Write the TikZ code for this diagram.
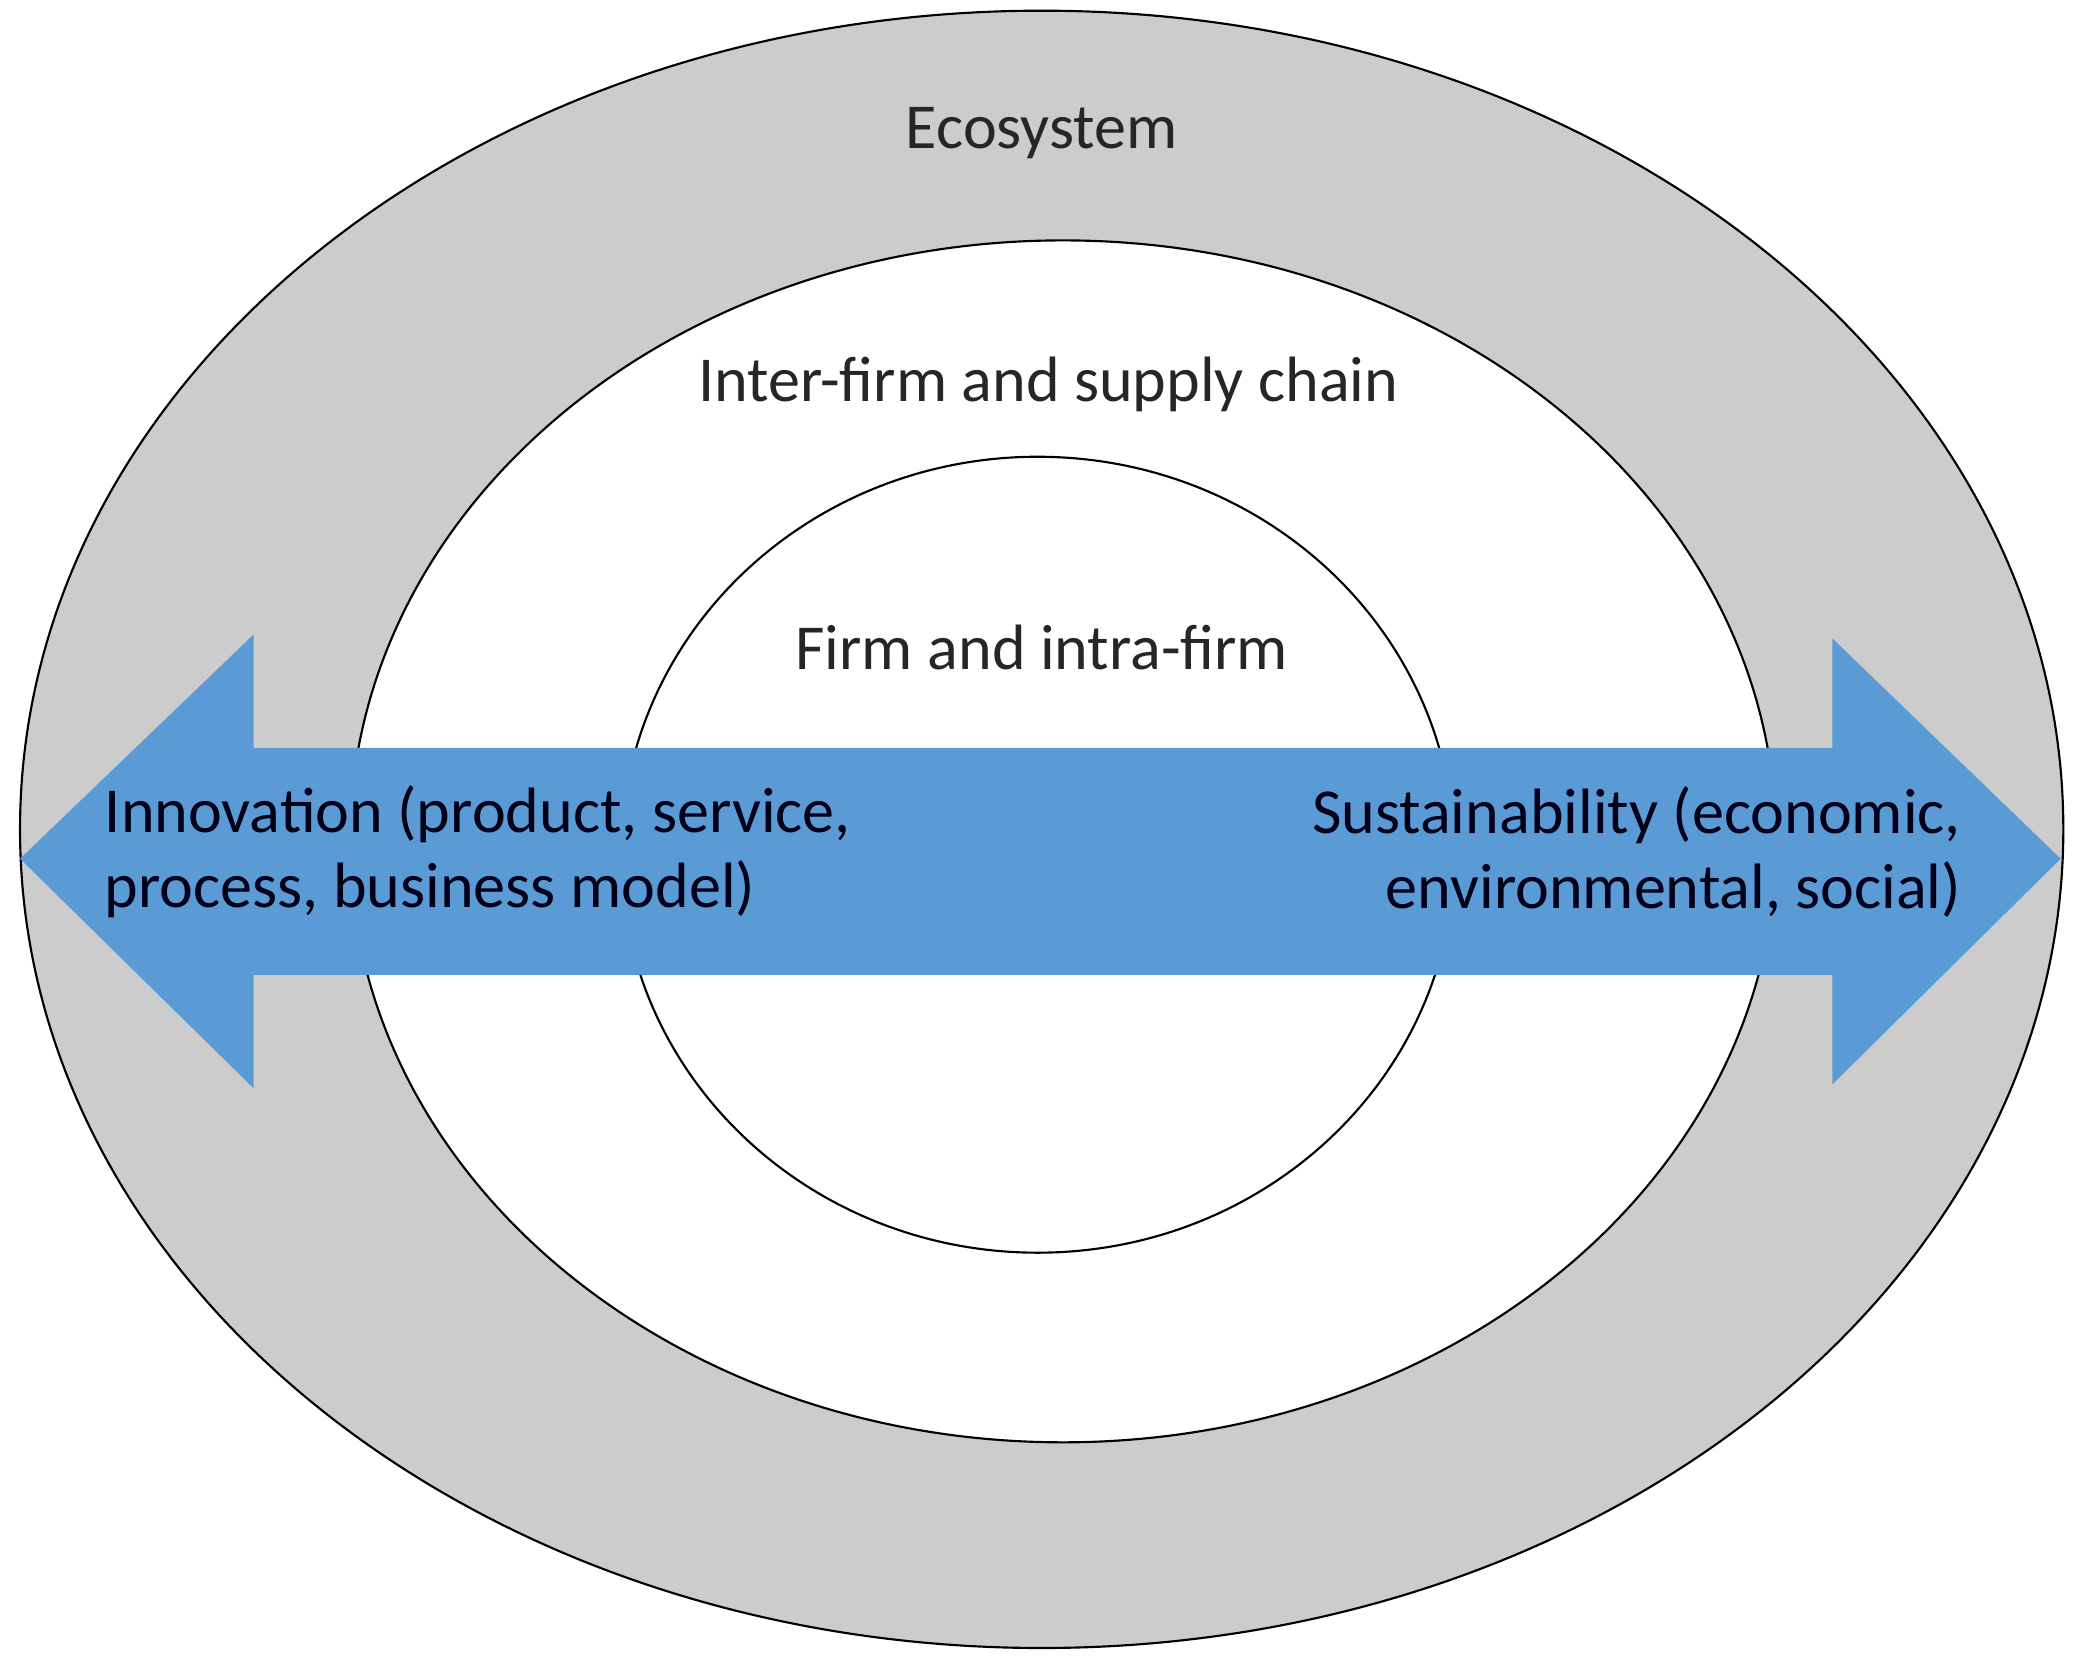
\documentclass[tikz,border=0pt]{standalone}
\usepackage{fontspec}
\setmainfont{Carlito}
\definecolor{ringgray}{RGB}{204,204,204}
\definecolor{arrowblue}{RGB}{91,155,213}
\begin{document}
\begin{tikzpicture}[x=1pt,y=-1pt,
  ring/.style={draw=black,line width=1.6pt},
  lbl/.style={font=\fontsize{48}{56}\selectfont,text=black!85}]
\useasboundingbox (0,0) rectangle (1553,1240);
\fill[white] (0,0) rectangle (1553,1240);
\draw[ring,fill=ringgray] (780,621) ellipse [x radius=765,y radius=613];
\draw[ring,fill=white] (796,630) ellipse [x radius=534,y radius=450];
\draw[ring,fill=white] (777,640) ellipse [x radius=312,y radius=298];
\fill[arrowblue] (15,643) -- (190,475) -- (190,560) -- (1372,560) -- (1372,478)
  -- (1543,643) -- (1372,812) -- (1372,730) -- (190,730) -- (190,815) -- cycle;
\node[lbl] (eco) at (780,100) {Ecosystem};
\node[lbl] (inter) at (785,288) {Inter-firm and supply chain};
\node[lbl] (firm) at (780,485) {Firm and intra-firm};
\node[lbl,anchor=west,align=left,text=black!90!blue] (innov) at (75,638) {Innovation (product, service,\\process, business model)};
\node[lbl,anchor=east,align=right,text=black!90!blue] (sust) at (1472,638) {Sustainability (economic,\\environmental, social)};
\end{tikzpicture}
\end{document}
